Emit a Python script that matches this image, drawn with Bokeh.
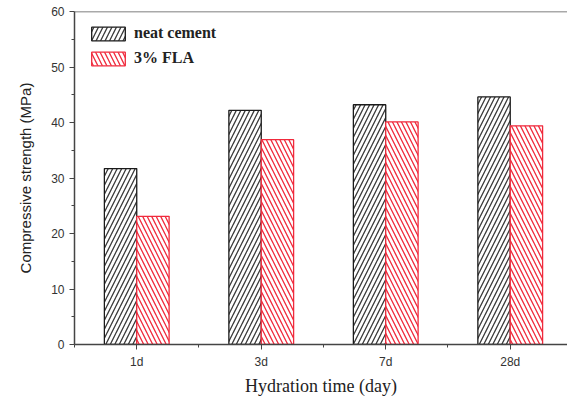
import numpy as np
from bokeh.plotting import figure
from bokeh.models import ColumnDataSource, FixedTicker, Span, Legend, LegendItem
from bokeh.transform import dodge
from bokeh.embed import file_html
from bokeh.resources import INLINE

categories = ["1d", "3d", "7d", "28d"]
neat_cement = [31.7, 42.2, 43.2, 44.6]
fla_3 = [23.1, 36.9, 40.1, 39.4]
series_labels = ["neat cement", "3% FLA"]
y_ticks = [0, 10, 20, 30, 40, 50, 60]

pos = list(range(1, len(categories) + 1))
src = ColumnDataSource(dict(x=pos, neat=neat_cement, fla=fla_3))

p = figure(width=567, height=409, output_backend="svg", toolbar_location=None,
           x_range=(0.5, 4.46), y_range=(0, 60),
           min_border_left=74, min_border_right=0, min_border_top=11, min_border_bottom=65)
p.background_fill_color = "white"
p.border_fill_color = "white"
p.outline_line_color = None
p.grid.visible = False

bw = 0.26
black = "#1a1a1a"
red = "#f02a3c"
r1 = p.vbar(x=dodge("x", -bw / 2), top="neat", width=bw, source=src,
            fill_color="white", line_color=black, line_width=1.3,
            hatch_pattern="/", hatch_color="#3a3a3a", hatch_scale=9, hatch_weight=1.3)
r2 = p.vbar(x=dodge("x", bw / 2), top="fla", width=bw, source=src,
            fill_color="white", line_color=red, line_width=1.3,
            hatch_pattern="\\", hatch_color=red, hatch_scale=9, hatch_weight=1.3)

p.add_layout(Span(location=60, dimension="width", line_color="#555555", line_width=1.5))

# axes
p.xaxis.ticker = FixedTicker(ticks=pos, minor_ticks=[0.5, 1.5, 2.5, 3.5])
p.xaxis.major_label_overrides = {i: c for i, c in zip(pos, categories)}
p.yaxis.ticker = FixedTicker(ticks=y_ticks, minor_ticks=[5, 15, 25, 35, 45, 55])
for ax in (p.xaxis[0], p.yaxis[0]):
    ax.axis_line_color = "#444444"
    ax.axis_line_width = 1.5
    ax.major_tick_in = 0
    ax.major_tick_out = 5
    ax.minor_tick_in = 0
    ax.minor_tick_out = 3
    ax.major_tick_line_color = "#444444"
    ax.minor_tick_line_color = "#444444"
    ax.major_label_text_font = "Liberation Sans"
    ax.major_label_text_font_size = "12px"
    ax.major_label_text_color = "#333333"

p.xaxis.axis_label = "Hydration time (day)"
p.xaxis.axis_label_text_font = "Liberation Serif"
p.xaxis.axis_label_text_font_style = "normal"
p.xaxis.axis_label_text_font_size = "18px"
p.xaxis.axis_label_text_color = "#222222"
p.xaxis.axis_label_standoff = 4

p.yaxis.axis_label = "Compressive strength (MPa)"
p.yaxis.axis_label_text_font = "Liberation Sans"
p.yaxis.axis_label_text_font_style = "normal"
p.yaxis.axis_label_text_font_size = "15px"
p.yaxis.axis_label_text_color = "#222222"
p.yaxis.axis_label_standoff = 14

legend = Legend(items=[LegendItem(label=series_labels[0], renderers=[r1]),
                       LegendItem(label=series_labels[1], renderers=[r2])],
                location="top_left")
legend.border_line_color = None
legend.background_fill_alpha = 0
legend.glyph_width = 42
legend.glyph_height = 17
legend.label_text_font = "Liberation Serif"
legend.label_text_font_style = "bold"
legend.label_text_font_size = "16px"
legend.label_text_color = "#222222"
legend.label_height = 17
legend.spacing = 7
legend.margin = 13
legend.padding = 2
legend.label_standoff = 5
p.add_layout(legend)

open("out.html", "w").write(file_html(p, INLINE))
